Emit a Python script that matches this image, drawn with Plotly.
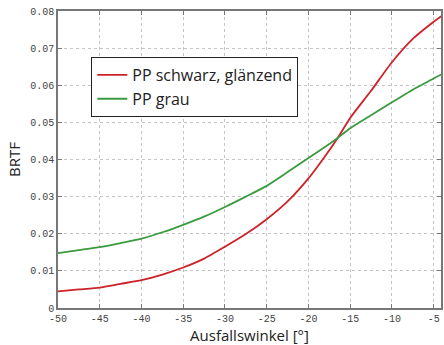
import plotly.graph_objects as go

angles = [-50, -47.5, -45, -42.5, -40, -37.5, -35, -32.5, -30, -27.5, -25, -22.5,
          -20, -17.5, -16.5, -15, -12.5, -10, -7.5, -5, -4.1]
pp_schwarz = [0.0045, 0.0050, 0.0055, 0.0065, 0.0075, 0.0090, 0.0109, 0.0133, 0.0165, 0.0199,
              0.0239, 0.0287, 0.0349, 0.0425, 0.0458, 0.0512, 0.0585, 0.0662, 0.0725, 0.0771, 0.0786]
pp_grau = [0.0148, 0.0156, 0.0164, 0.0175, 0.0187, 0.0204, 0.0224, 0.0246, 0.0272, 0.0300,
           0.0329, 0.0366, 0.0404, 0.0442, 0.0458, 0.0484, 0.0519, 0.0554, 0.0588, 0.0618, 0.0629]

x_ticks = [-50, -45, -40, -35, -30, -25, -20, -15, -10, -5]
x_ticktext = ["-50", "-45", "-40", "-35", "-30", "-25", "-20", "-15", "-10", "-5"]
y_ticks = [0, 0.01, 0.02, 0.03, 0.04, 0.05, 0.06, 0.07, 0.08]
y_ticktext = ["0", "0.01", "0.02", "0.03", "0.04", "0.05", "0.06", "0.07", "0.08"]

fig = go.Figure()
fig.add_trace(go.Scatter(x=angles, y=pp_schwarz, mode="lines", name="PP schwarz, glänzend",
                         line=dict(color="#cc2229", width=1.8, shape="spline", smoothing=0.6)))
fig.add_trace(go.Scatter(x=angles, y=pp_grau, mode="lines", name="PP grau",
                         line=dict(color="#3a9a3e", width=1.8, shape="spline", smoothing=0.6)))

axis_common = dict(showline=True, linecolor="#777777", linewidth=1.5, mirror="ticks",
                   ticks="inside", ticklen=4, tickcolor="#777777",
                   showgrid=True, gridcolor="#c4c4c4", griddash="dot", gridwidth=1,
                   zeroline=False,
                   tickfont=dict(family="Liberation Mono", size=10, color="#444444"))

fig.update_xaxes(range=[-50, -4.12], tickvals=x_ticks, ticktext=x_ticktext,
                 title=dict(text="Ausfallswinkel [°]", standoff=4,
                            font=dict(family="Open Sans", size=15, color="#222222")),
                 **axis_common)
fig.update_yaxes(range=[0, 0.08], tickvals=y_ticks, ticktext=y_ticktext,
                 title=dict(text="BRTF", standoff=6,
                            font=dict(family="Open Sans", size=15, color="#222222")),
                 **axis_common)

fig.update_layout(
    width=444, height=345,
    margin=dict(l=58, r=1, t=11, b=37),
    plot_bgcolor="white", paper_bgcolor="white",
    legend=dict(x=0.087, y=0.845, xanchor="left", yanchor="top",
                bordercolor="#222222", borderwidth=1, bgcolor="white",
                font=dict(family="Open Sans", size=16, color="#222222"),
                tracegroupgap=0, itemwidth=30),
    showlegend=True,
)

fig.write_html("out.html", config={"displayModeBar": False},
               post_script="document.body.style.margin='0';document.body.style.padding='0';")
